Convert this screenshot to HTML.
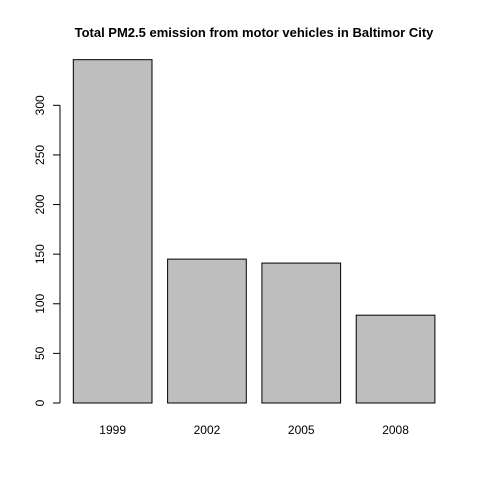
<!DOCTYPE html>
<html><head><style>body{margin:0;background:#fff}svg{display:block;font-family:"Liberation Sans",sans-serif}</style></head>
<body>
<svg id="c" width="480" height="480">
<text x="254" y="37" text-anchor="middle" font-weight="bold" font-size="13">Total PM2.5 emission from motor vehicles in Baltimor City</text>
</svg>
<script>
const categories=["1999","2002","2005","2008"];
const values=[346,145,141,88.5];
const ticks=[0,50,100,150,200,250,300];
const svg=document.getElementById('c');
const NS='http://www.w3.org/2000/svg';
const y=v=>403-v*0.9923;
const bx=i=>73.3+i*94.3;
const bw=78.7;
function mk(t,a){const e=document.createElementNS(NS,t);for(const k in a)e.setAttribute(k,a[k]);svg.appendChild(e);return e;}
categories.forEach((c,i)=>{
 const r=mk('rect',{x:bx(i),y:y(values[i]),width:bw,height:y(0)-y(values[i]),fill:'#bebebe',stroke:'#000','stroke-width':1});
 
 
 const t=mk('text',{x:bx(i)+bw/2,y:434,'text-anchor':'middle','font-size':12});
 t.textContent=c;
 
 
});
const ax=mk('line',{x1:60,x2:60,y1:y(0),y2:y(300),stroke:'#000'});


ticks.forEach(v=>{
 const l=mk('line',{x1:53,x2:60,y1:y(v),y2:y(v),stroke:'#000'});
 
 
 const t=mk('text',{x:0,y:0,'text-anchor':'middle','font-size':12,transform:`translate(44,${y(v)}) rotate(-90)`});
 t.textContent=v;
 
 
});
</script>
</body></html>
